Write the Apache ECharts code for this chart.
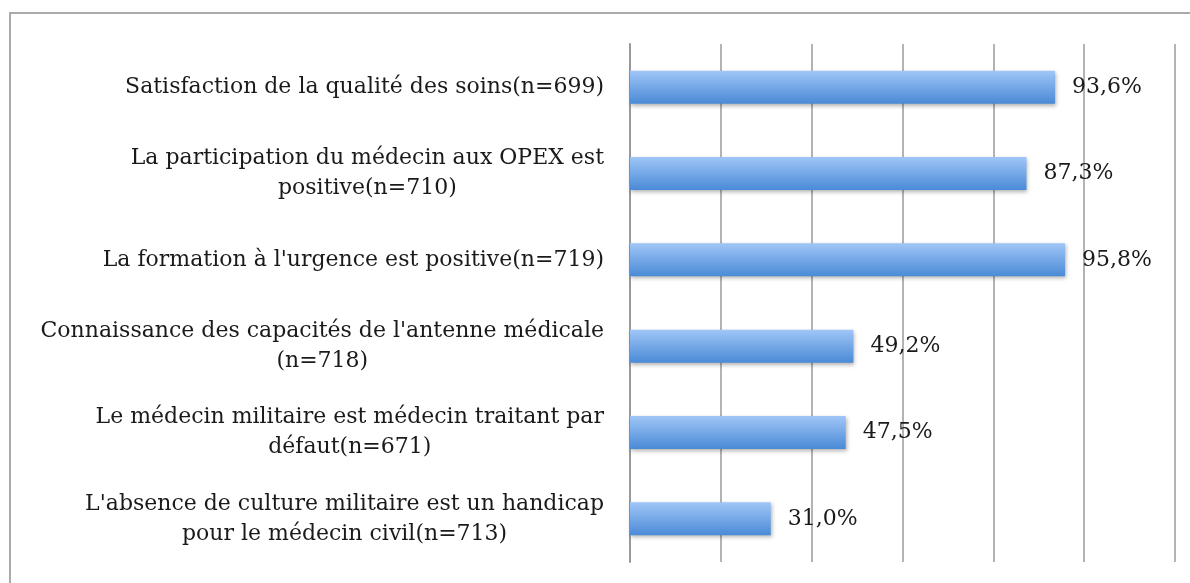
<!DOCTYPE html>
<html>
<head>
<meta charset="utf-8">
<script src="https://cdn.jsdelivr.net/npm/echarts@6/dist/echarts.min.js"></script>
<style>
  html, body { margin: 0; padding: 0; background: #fff; }
  #main { width: 1190px; height: 583px; }
</style>
</head>
<body>
<div id="main"></div>
<script>
var categories = [
    'Satisfaction de la qualité des soins(n=699)',
    'La participation du médecin aux OPEX est\npositive(n=710)',
    "La formation à l'urgence est positive(n=719)",
    "Connaissance des capacités de l'antenne médicale\n(n=718)",
    'Le médecin militaire est médecin traitant par\ndéfaut(n=671)',
    "L'absence de culture militaire est un handicap\npour le médecin civil(n=713)"
];
var values = [93.6, 87.3, 95.8, 49.2, 47.5, 31.0];

var font = 'DejaVu Serif';

var chart = echarts.init(document.getElementById('main'));

chart.setOption({
    animation: false,
    graphic: [{
        type: 'rect',
        shape: { x: 10, y: 13, width: 1400, height: 800 },
        style: { fill: 'none', stroke: '#aaaaaa', lineWidth: 2 },
        silent: true
    }],
    grid: { left: 630, top: 44, right: 15, bottom: 21 },
    xAxis: {
        type: 'value',
        min: 0,
        max: 120,
        interval: 20,
        axisLine: { show: false },
        axisTick: { show: false },
        axisLabel: { show: false },
        splitLine: { lineStyle: { color: '#b3b3b3', width: 2 } }
    },
    yAxis: {
        type: 'category',
        data: categories,
        inverse: true,
        axisLine: { lineStyle: { color: '#999999', width: 2 } },
        axisTick: { length: 8, lineStyle: { color: '#999999', width: 2 } },
        axisLabel: {
            margin: 26,
            formatter: function (v) {
                return v.split('\n').map(function (l) { return '{c|' + l + '}'; }).join('\n');
            },
            rich: {
                c: { align: 'center', fontFamily: font, fontSize: 22, color: '#1a1a1a', lineHeight: 30 }
            }
        }
    },
    series: [{
        type: 'bar',
        data: values,
        barWidth: 33,
        itemStyle: {
            color: new echarts.graphic.LinearGradient(0, 0, 0, 1, [
                { offset: 0, color: '#a0c6f7' },
                { offset: 1, color: '#4a8ad6' }
            ]),
            shadowColor: 'rgba(0,0,0,0.3)',
            shadowBlur: 4,
            shadowOffsetY: 2,
            shadowOffsetX: 1
        },
        label: {
            show: true,
            position: 'right',
            distance: 17,
            fontFamily: font,
            fontSize: 22,
            color: '#1a1a1a',
            formatter: function (p) { return p.value.toFixed(1).replace('.', ',') + '%'; }
        }
    }]
});
</script>
</body>
</html>
